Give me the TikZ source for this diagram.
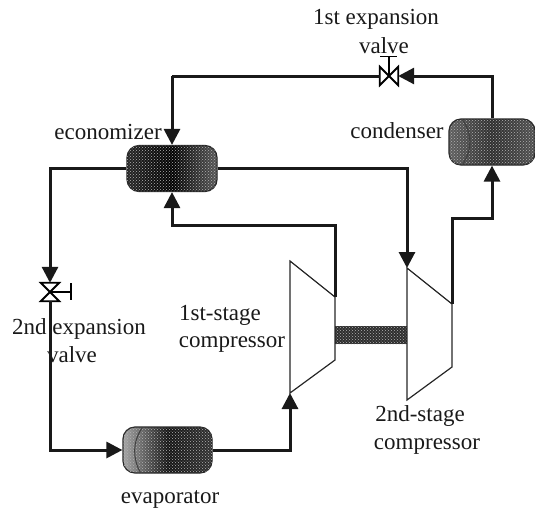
\documentclass[tikz,border=0pt]{standalone}
\usepackage{fontspec}
\setmainfont{Liberation Serif}
\usetikzlibrary{arrows.meta,patterns,calc}
\tikzset{
  x=1pt,y=-1pt,
  pipe/.style={line width=3pt,line join=miter,color=black!90},
  flow/.style={pipe,-{Triangle[length=16pt,width=16pt]}},
  vessel/.style={draw=black!85,line width=1.2pt,rounded corners=12pt,inner sep=0pt,minimum width=#1,minimum height=46pt},
  speck/.style={postaction={pattern=crosshatch dots,pattern color=white!70!black}},
  thin line/.style={line width=1.2pt,color=black!85,line join=miter},
  valvebody/.style={draw=none,inner sep=0pt,minimum width=18pt,minimum height=18pt},
  valveline/.style={line width=1.8pt,color=black,line join=miter},
  lab/.style={font=\fontsize{23}{27}\selectfont,inner sep=0pt,align=center,text=black!90},
}
\begin{document}
\begin{tikzpicture}
\useasboundingbox (0,0) rectangle (535,512);
% vessels
\node[vessel=90pt,speck,left color=black!85,right color=black!65,middle color=black] (econ) at (172,168.5) {};
\node[vessel=86pt,speck,left color=black!62,right color=black!68,middle color=black!82] (cond) at (492,142) {};
\node[vessel=89pt,speck,left color=black!35,right color=black!80,middle color=black!92] (evap) at (167.5,450) {};
\draw[black!75,line width=1pt] ($(cond.north west)+(14,1)$) .. controls ($(cond.west)+(24,-8)$) and ($(cond.west)+(24,8)$) .. ($(cond.south west)+(14,-1)$);
\draw[black!75,line width=1pt] ($(evap.north west)+(20,1)$) .. controls ($(evap.west)+(10,-8)$) and ($(evap.west)+(10,8)$) .. ($(evap.south west)+(18,-1)$);
% shaft
\node[inner sep=0pt,minimum width=72pt,minimum height=18pt,fill=black!82,speck] (shaft) at (371,335) {};
% compressors
\coordinate (c1tl) at (290,261);
\coordinate (c1tr) at (335,297);
\coordinate (c1br) at (335,360);
\coordinate (c1bl) at (290,393);
\coordinate (c2tl) at (407,268);
\coordinate (c2tr) at (452,304);
\coordinate (c2br) at (452,367);
\coordinate (c2bl) at (407,400);
\draw[thin line] (c1tl) -- (c1tr) -- (c1br) -- (c1bl) -- cycle;
\draw[thin line] (c2tl) -- (c2tr) -- (c2br) -- (c2bl) -- cycle;
% valves
\node[valvebody] (v1) at (389,76) {};
\node[valvebody] (v2) at (50,292) {};
\coordinate (v1h) at (389,56.5);
\coordinate (v1ha) at (380,56.5);
\coordinate (v1hb) at (397,56.5);
\coordinate (v2h) at (71,292);
\coordinate (v2ha) at (71,283);
\coordinate (v2hb) at (71,300);
\draw[valveline] (v1.north west) -- (v1.south east) -- (v1.north east) -- (v1.south west) -- cycle;
\draw[valveline] (v1.center) -- (v1h) (v1ha) -- (v1hb);
\draw[valveline] (v2.north west) -- (v2.south east) -- (v2.south west) -- (v2.north east) -- cycle;
\draw[valveline] (v2.center) -- (v2h) (v2ha) -- (v2hb);
% connectors
\coordinate (topL) at (econ.north |- v1);
\coordinate (topR) at (cond.north |- v1);
\draw[flow] (cond.north) -- (topR) -- (v1.east);
\draw[pipe] (v1.west) -- (topL);
\draw[flow] (topL) -- (econ.north);
\coordinate (c1up) at (c1tr |- 0,225);
\coordinate (c1left) at (econ.south |- 0,225);
\draw[flow] (c1tr) -- (c1up) -- (c1left) -- (econ.south);
\coordinate (econR) at (c2tl |- econ.east);
\draw[flow] (econ.east) -- (econR) -- (c2tl);
\coordinate (c2up) at (c2tr |- 0,218);
\coordinate (c2right) at (cond.south |- 0,218);
\draw[flow] (c2tr) -- (c2up) -- (c2right) -- (cond.south);
\coordinate (econL) at (v2.north |- econ.west);
\draw[flow] (econ.west) -- (econL) -- (v2.north);
\coordinate (botL) at (v2.south |- evap.west);
\draw[flow] (v2.south) -- (botL) -- (evap.west);
\coordinate (botR) at (c1bl |- evap.east);
\draw[flow] (evap.east) -- (botR) -- (c1bl);
% labels
\node[lab] (l1) at (376,19) {1st expansion};
\node[lab] (l1b) at (384,46) {valve};
\node[lab] (l2) at (108,132) {economizer};
\node[lab] (l3) at (397,131) {condenser};
\node[lab] (l4) at (79,329) {2nd expansion};
\node[lab] (l4b) at (72,355) {valve};
\node[lab] (l5) at (220,315) {1st-stage};
\node[lab] (l5b) at (232,345) {compressor};
\node[lab] (l6) at (420,416) {2nd-stage};
\node[lab] (l6b) at (427,447) {compressor};
\node[lab] (l7) at (170,499) {evaporator};
\end{tikzpicture}
\end{document}
